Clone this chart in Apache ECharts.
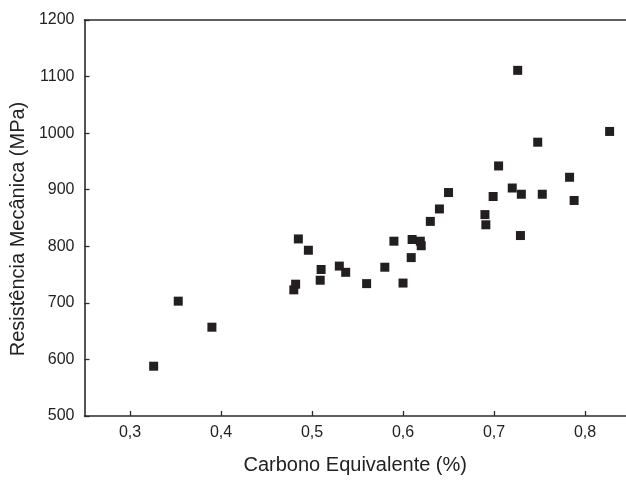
<!DOCTYPE html>
<html><head><meta charset="utf-8">
<script src="https://cdn.jsdelivr.net/npm/echarts@6/dist/echarts.min.js"></script>
<style>html,body{margin:0;padding:0;background:#fff}#c{width:626px;height:480px}</style>
</head><body><div id="c"></div>
<script>
const carbonoEquivalente = [0.326,0.353,0.390,0.480,0.482,0.485,0.496,0.510,0.509,0.530,0.537,0.560,0.580,0.590,0.600,0.609,0.610,0.619,0.620,0.630,0.640,0.650,0.690,0.691,0.699,0.705,0.720,0.726,0.729,0.730,0.748,0.753,0.783,0.788,0.827];
const resistencia = [588,703,657,723,733,813,793,759,740,765,754,734,763,809,735,780,812,809,801,844,866,895,856,838,888,942,903,1111,819,892,984,892,922,881,1003];
const xTicks = [0.3,0.4,0.5,0.6,0.7,0.8];
const yTicks = [500,600,700,800,900,1000,1100,1200];
const xName = 'Carbono Equivalente (%)';
const yName = 'Resistência Mecânica (MPa)';

const points = carbonoEquivalente.map((x,i)=>[x,resistencia[i]]);
const font = 'Liberation Sans, Arial, sans-serif';
const axisColor = '#2b2b2b';
const textColor = '#222';
const chart = echarts.init(document.getElementById('c'));
chart.setOption({
  animation:false,
  grid:{left:83.5,right:0,top:20,bottom:58.3,containLabel:false},
  xAxis:[{
    type:'value',min:0.25,max:0.845,
    name:xName,nameLocation:'middle',nameGap:39,
    nameTextStyle:{fontFamily:font,fontSize:20,color:textColor},
    axisLine:{show:true,lineStyle:{color:axisColor,width:1.6}},
    axisTick:{show:true,inside:true,length:5,customValues:xTicks,lineStyle:{color:axisColor,width:1.3}},
    axisLabel:{customValues:xTicks,margin:9,fontFamily:font,fontSize:16,color:textColor,
      formatter:v=>v.toFixed(1).replace('.',',')},
    splitLine:{show:false}
  },{
    type:'value',position:'top',min:0.25,max:0.845,
    axisLine:{show:true,onZero:false,lineStyle:{color:axisColor,width:1.6}},
    axisTick:{show:false},axisLabel:{show:false},splitLine:{show:false}
  }],
  yAxis:{
    type:'value',min:500,max:1200,interval:100,
    name:yName,nameLocation:'middle',nameGap:53,
    nameTextStyle:{fontFamily:font,fontSize:20,color:textColor,padding:[0,22,0,0]},
    axisLine:{show:true,lineStyle:{color:axisColor,width:1.6}},
    axisTick:{show:true,inside:true,length:5,lineStyle:{color:axisColor,width:1.3}},
    axisLabel:{margin:10,fontFamily:font,fontSize:16,color:textColor,formatter:v=>String(v)},
    splitLine:{show:false}
  },
  series:[{
    type:'scatter',xAxisIndex:0,data:points,symbol:'rect',symbolSize:9,
    itemStyle:{color:'#231f20',opacity:1}
  }]
});
</script></body></html>
